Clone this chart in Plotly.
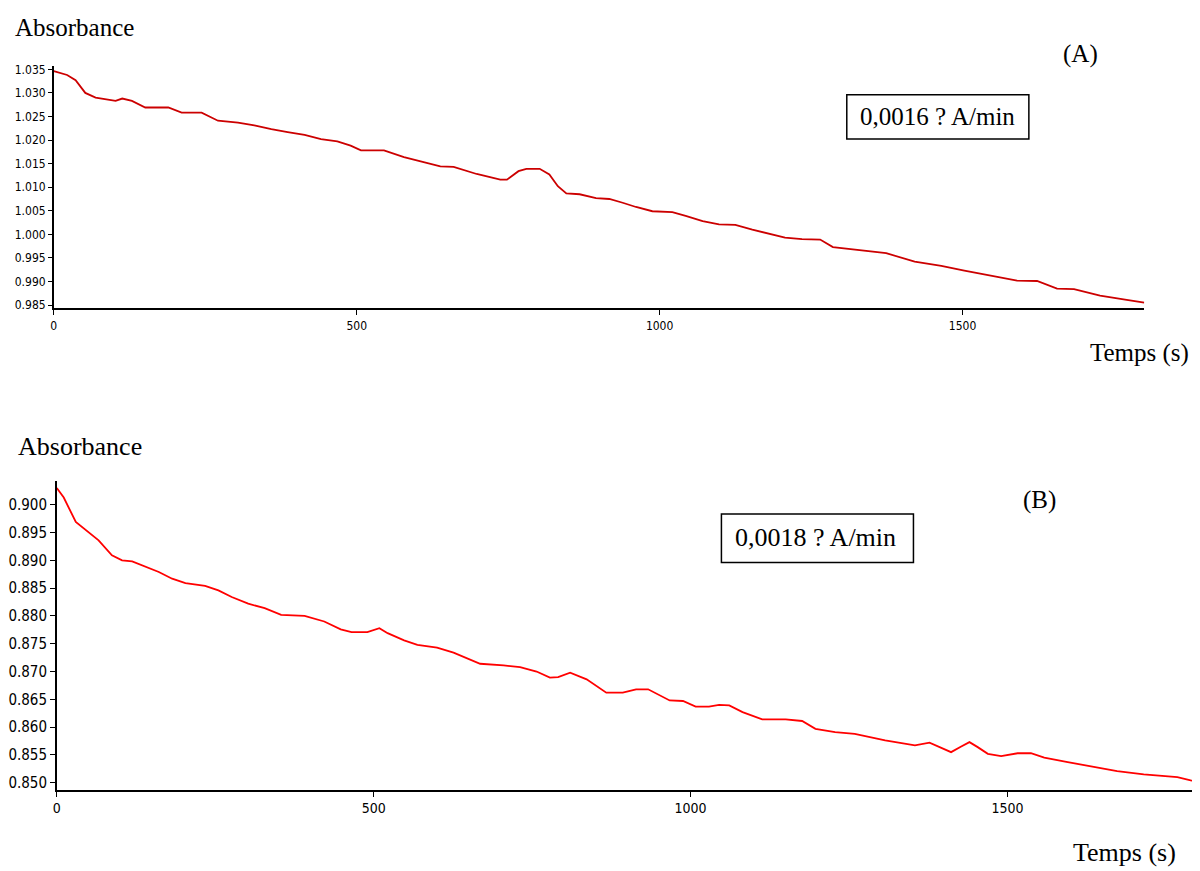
import plotly.graph_objects as go

# Panel A data (time s, absorbance)
tA = [0, 22, 36, 52, 69, 85, 102, 113, 129, 151, 189, 211, 244, 271, 304, 331, 359, 386, 414, 441,
      468, 490, 507, 545, 578, 638, 660, 698, 737, 748, 767, 780, 802, 818, 832, 846, 868, 895, 917,
      939, 961, 988, 1021, 1043, 1071, 1098, 1125, 1153, 1180, 1207, 1235, 1265, 1286, 1330, 1374,
      1421, 1465, 1503, 1541, 1590, 1623, 1656, 1684, 1727, 1771, 1800]
aA = [1.0346, 1.0338, 1.0327, 1.0300, 1.0290, 1.0286, 1.0283, 1.0288, 1.0283, 1.0269, 1.0269, 1.0258,
      1.0258, 1.0241, 1.0237, 1.0231, 1.0223, 1.0217, 1.0211, 1.0202, 1.0197, 1.0188, 1.0178, 1.0178,
      1.0164, 1.0144, 1.0143, 1.0128, 1.0116, 1.0116, 1.0134, 1.0139, 1.0139, 1.0127, 1.0102, 1.0087,
      1.0085, 1.0077, 1.0075, 1.0067, 1.0058, 1.0049, 1.0047, 1.0039, 1.0028, 1.0021, 1.0020, 1.0010,
      1.0002, 0.9993, 0.9990, 0.9989, 0.9973, 0.9967, 0.9960, 0.9942, 0.9933, 0.9923, 0.9914, 0.9902,
      0.9901, 0.9885, 0.9884, 0.9870, 0.9861, 0.9855]

# Panel B data
tB = [0, 11, 30, 45, 66, 87, 103, 119, 140, 161, 182, 203, 234, 255, 276, 302, 328, 354, 391, 422,
      448, 465, 490, 509, 522, 548, 569, 600, 626, 668, 705, 731, 757, 778, 791, 810, 836, 867, 893,
      914, 933, 967, 988, 1008, 1029, 1045, 1061, 1082, 1113, 1150, 1176, 1197, 1228, 1259, 1307,
      1354, 1377, 1396, 1411, 1427, 1440, 1453, 1469, 1490, 1516, 1537, 1558, 1595, 1636, 1673, 1715,
      1768, 1789, 1800]
aB = [0.9030, 0.9013, 0.8969, 0.8955, 0.8936, 0.8909, 0.8900, 0.8898, 0.8889, 0.8879, 0.8867, 0.8859,
      0.8854, 0.8846, 0.8834, 0.8822, 0.8814, 0.8802, 0.8800, 0.8790, 0.8776, 0.8771, 0.8771, 0.8778,
      0.8769, 0.8756, 0.8748, 0.8743, 0.8734, 0.8714, 0.8711, 0.8708, 0.8700, 0.8689, 0.8690, 0.8698,
      0.8686, 0.8662, 0.8662, 0.8668, 0.8668, 0.8648, 0.8647, 0.8637, 0.8637, 0.8640, 0.8639, 0.8627,
      0.8614, 0.8614, 0.8611, 0.8597, 0.8591, 0.8588, 0.8576, 0.8567, 0.8572, 0.8563, 0.8555, 0.8565,
      0.8573, 0.8564, 0.8552, 0.8548, 0.8553, 0.8553, 0.8545, 0.8537, 0.8529, 0.8521, 0.8515, 0.8510,
      0.8504, 0.8502]

xticksA = [0, 500, 1000, 1500]
yticksA = [0.985, 0.990, 0.995, 1.000, 1.005, 1.010, 1.015, 1.020, 1.025, 1.030, 1.035]
xticksB = [0, 500, 1000, 1500]
yticksB = [0.850, 0.855, 0.860, 0.865, 0.870, 0.875, 0.880, 0.885, 0.890, 0.895, 0.900]

# the page body has an 8px margin; the figure fills the rest of the 1200x871 window
OFF = 8
W, H = 1200 - OFF, 871 - OFF
def px(x): return (x - OFF) / W
def py(y): return 1 - (y - OFF) / H

fig = go.Figure()
fig.add_trace(go.Scatter(x=tA, y=aA, mode="lines", line=dict(color="#cc0000", width=1.8),
                         xaxis="x", yaxis="y", showlegend=False, hoverinfo="skip"))
fig.add_trace(go.Scatter(x=tB, y=aB, mode="lines", line=dict(color="#ff0000", width=1.8),
                         xaxis="x2", yaxis="y2", showlegend=False, hoverinfo="skip"))

narrow = "DejaVu Sans Condensed, Liberation Sans Narrow, sans-serif"
serif = "Liberation Serif, Times New Roman, serif"

common = dict(showgrid=False, zeroline=False, showline=True, linecolor="black",
              ticks="outside", tickcolor="black", mirror=False)

fig.update_layout(
    width=W, height=H, margin=dict(l=0, r=0, t=0, b=0),
    paper_bgcolor="white", plot_bgcolor="white",
    xaxis=dict(domain=[px(48), px(1144)], range=[0, 1800], anchor="y",
               tickvals=xticksA, ticktext=[str(v) for v in xticksA], ticklen=5, linewidth=2,
               tickfont=dict(family=narrow, size=12, color="black"), **common),
    yaxis=dict(domain=[py(307.7), py(63)], range=[0.98432, 1.0358], anchor="x",
               tickvals=yticksA, ticktext=["%.3f" % v for v in yticksA], ticklen=4, linewidth=1.5,
               tickfont=dict(family=narrow, size=12, color="black"), **common),
    xaxis2=dict(domain=[px(51), px(1198)], range=[0, 1800.6], anchor="y2",
                tickvals=xticksB, ticktext=[str(v) for v in xticksB], ticklen=5, linewidth=1.5,
                tickfont=dict(family=narrow, size=14, color="black"), **common),
    yaxis2=dict(domain=[py(793.3), py(481.7)], range=[0.8487, 0.9043], anchor="x2",
                tickvals=yticksB, ticktext=["%.3f" % v for v in yticksB], ticklen=5, linewidth=1.5,
                tickfont=dict(family=narrow, size=15, color="black"), **common),
)

shapes = [
    dict(type="rect", xref="paper", yref="paper", x0=px(845), x1=px(1028), y0=py(137), y1=py(92.5),
         line=dict(color="black", width=1.5), fillcolor="rgba(0,0,0,0)"),
    dict(type="rect", xref="paper", yref="paper", x0=px(719), x1=px(912), y0=py(564), y1=py(515),
         line=dict(color="black", width=1.5), fillcolor="rgba(0,0,0,0)"),
]
fig.update_layout(shapes=shapes)

def ann(text, x, y, size=24, xanchor="center"):
    return dict(text=text, x=px(x), y=py(y), xref="paper", yref="paper", showarrow=False,
                xanchor=xanchor, yanchor="middle", font=dict(family=serif, size=size, color="black"))

fig.update_layout(annotations=[
    ann("Absorbance", 69, 25, 25),
    ann("(A)", 1080, 51, 25),
    ann("0,0016 ? A/min", 936, 114, 25),
    ann("Temps (s)", 1139, 353, 25),
    ann("Absorbance", 74, 447, 26),
    ann("(B)", 1039, 501, 25),
    ann("0,0018 ? A/min", 814, 539, 26),
    ann("Temps (s)", 1124, 856, 26),
])

fig.write_html("out.html")
